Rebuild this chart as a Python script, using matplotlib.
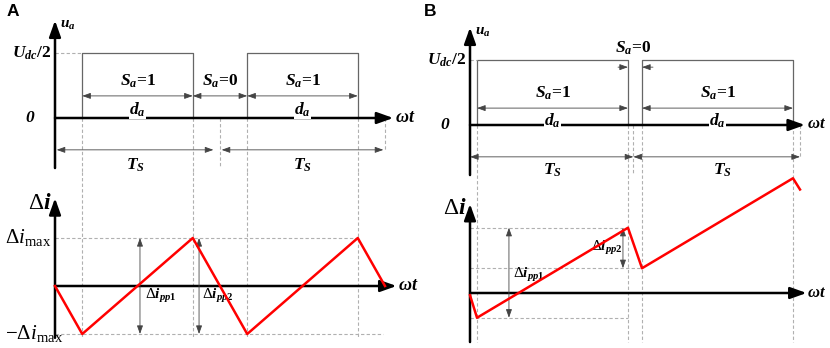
import matplotlib
matplotlib.use("Agg")
import matplotlib.pyplot as plt

plt.rcParams['mathtext.fontset'] = 'custom'
plt.rcParams['mathtext.rm'] = 'Liberation Serif'
plt.rcParams['mathtext.it'] = 'Liberation Serif:italic:bold'
plt.rcParams['mathtext.bf'] = 'Liberation Serif:bold'
plt.rcParams['mathtext.sf'] = 'Liberation Serif:italic'

# switching period normalised to Ts = 1, Udc/2 normalised to 1
u_high = 1.0
periods = [0.0, 1.0, 2.0]

# panel A: duty cycle ~0.67, symmetric ripple
edges_A = [0.165, 0.835, 1.165, 1.835]
t_A = [0.0, 0.165, 0.835, 1.165, 1.835, 2.0]
di_A = [0.0, -1.0, 1.0, -1.0, 1.0, 0.0]

# panel B: duty cycle ~0.915, ripple with drift
edges_B = [0.0425, 0.9575, 1.0425, 1.9575]
t_B = [0.0, 0.0425, 0.9575, 1.0425, 1.9575, 2.0]
di_B = [-0.05, -0.55, 1.45, 0.55, 2.55, 2.3]

W, H = 830, 348
SERIF = 'Liberation Serif'
DASH = dict(color='#b0b0b0', lw=0.8, ls=(0, (3, 2)))
GRAY = '#666666'


def make_ax(fig, l, t, r, b, t0_px, ppt, y0_px, ppu):
    ax = fig.add_axes([l / W, 1 - b / H, (r - l) / W, (b - t) / H])
    ax.set_xlim((l - t0_px) / ppt, (r - t0_px) / ppt)
    ax.set_ylim((y0_px - b) / ppu, (y0_px - t) / ppu)
    ax.axis('off')
    return ax


def axis_arrow(ax, p0, p1):
    ax.annotate('', xy=p1, xytext=p0, annotation_clip=False,
                arrowprops=dict(arrowstyle='-|>,head_length=0.7,head_width=0.25',
                                color='k', lw=1.8, shrinkA=0, shrinkB=0,
                                mutation_scale=14))


def dim_arrow(ax, p0, p1, style='<|-|>'):
    ax.annotate('', xy=p1, xytext=p0, annotation_clip=False,
                arrowprops=dict(arrowstyle=style + ',head_length=0.5,head_width=0.18',
                                color='#444444', lw=0.6, shrinkA=0, shrinkB=0,
                                mutation_scale=10))


def txt(ax, x, y, s, size=12.5, ha='center', va='center', **kw):
    ax.text(x, y, s, fontsize=size, ha=ha, va=va, family=SERIF,
            fontweight='bold', clip_on=False, **kw)


def top_panel(ax, edges, y_bottom, xend, wsize=13):
    # axes
    axis_arrow(ax, (0, y_bottom), (0, 1.5))
    axis_arrow(ax, (0, 0), (xend, 0))
    # pulses
    for s, e in zip(edges[0::2], edges[1::2]):
        ax.plot([s, s, e, e], [0, u_high, u_high, 0], color=GRAY, lw=0.9)
    ax.plot([0, edges[0]], [u_high, u_high], **DASH)
    txt(ax, -0.02, u_high, r'$U_{dc}$/2', ha='right')
    txt(ax, -0.15, 0, '0', fontstyle='italic')
    txt(ax, 0.03, 1.43, r'$u_a$', size=11, ha='left')
    txt(ax, xend + 0.01, 0.01, r'$\omega t$', size=wsize, ha='left')
    for e in edges:
        ax.plot([e, e], [0, ax.get_ylim()[0]], **DASH)


fig = plt.figure(figsize=(8.3, 3.48), dpi=100)

# ---------------- panel A ----------------
axA = make_ax(fig, 0, 0, 415, 172, 55, 165, 118, 65)
top_panel(axA, edges_A, -0.77, 2.05)
axA.plot([periods[1]] * 2, [0, -0.77], **DASH)
axA.plot([periods[2]] * 2, [0, -0.49], **DASH)
yd = 0.34
for a, b in zip(edges_A[:-1], edges_A[1:]):
    dim_arrow(axA, (a, yd), (b, yd))
for a, b, lab in [(edges_A[0], edges_A[1], r'$S_a$=1'),
                  (edges_A[1], edges_A[2], r'$S_a$=0'),
                  (edges_A[2], edges_A[3], r'$S_a$=1')]:
    txt(axA, (a + b) / 2, 0.56, lab)
for a, b in [(edges_A[0], edges_A[1]), (edges_A[2], edges_A[3])]:
    txt(axA, (a + b) / 2, 0.13, r'$d_a$',
        bbox=dict(fc='white', ec='none', pad=0.2))
dim_arrow(axA, (0.01, -0.49), (0.96, -0.49))
dim_arrow(axA, (1.01, -0.49), (1.99, -0.49))
txt(axA, 0.49, -0.73, r'$T_S$')
txt(axA, 1.5, -0.73, r'$T_S$')

axA2 = make_ax(fig, 0, 172, 415, 348, 55, 165, 286, 48)
axis_arrow(axA2, (0, -1.08), (0, 1.83))
axis_arrow(axA2, (0, 0), (2.07, 0))
for e in edges_A:
    axA2.plot([e, e], [axA2.get_ylim()[1], -1.08], **DASH)
axA2.plot([0, edges_A[3]], [1, 1], **DASH)
axA2.plot([0, 1.99], [-1, -1], **DASH)
axA2.plot(t_A, di_A, color='#ff0000', lw=1.8, zorder=5)
dim_arrow(axA2, (0.515, -1), (0.515, 1))
dim_arrow(axA2, (0.873, -1), (0.873, 1))
txt(axA2, 0.545, -0.2, r'$\Delta i_{pp\mathbf{1}}$', size=11, ha='left')
txt(axA2, 0.89, -0.2, r'$\Delta i_{pp\mathbf{2}}$', size=11, ha='left')
axA2.text(-0.02, 1.75, r'$\Delta\mathit{i}$', fontsize=17, ha='right', va='center')
axA2.text(-0.02, 1.0, r'$\Delta\mathsf{i}_{\mathrm{max}}$', fontsize=15, ha='right', va='center')
axA2.text(0.05, -1.0, r'$-\Delta\mathsf{i}_{\mathrm{max}}$', fontsize=15, ha='right', va='center')
txt(axA2, 2.08, 0.01, r'$\omega t$', size=13, ha='left')

# ---------------- panel B ----------------
axB = make_ax(fig, 420, 0, 830, 175, 470, 165, 125, 65)
top_panel(axB, edges_B, -0.77, 2.03, wsize=12)
axB.plot([0.99] * 2, [0, -0.77], **DASH)
axB.plot([periods[2]] * 2, [0, -0.5], **DASH)
yd = 0.26
dim_arrow(axB, (edges_B[0], yd), (edges_B[1], yd))
dim_arrow(axB, (edges_B[2], yd), (edges_B[3], yd))
dim_arrow(axB, (0.897, 0.89), (edges_B[1], 0.89), style='-|>')
dim_arrow(axB, (1.109, 0.89), (edges_B[2], 0.89), style='-|>')
txt(axB, 0.99, 1.18, r'$S_a$=0')
for a, b in [(edges_B[0], edges_B[1]), (edges_B[2], edges_B[3])]:
    txt(axB, (a + b) / 2, 0.49, r'$S_a$=1')
    txt(axB, (a + b) / 2, 0.06, r'$d_a$',
        bbox=dict(fc='white', ec='none', pad=0.2))
dim_arrow(axB, (0.0, -0.49), (0.99, -0.49))
dim_arrow(axB, (0.99, -0.49), (2.0, -0.49))
txt(axB, 0.5, -0.7, r'$T_S$')
txt(axB, 1.53, -0.7, r'$T_S$')

axB2 = make_ax(fig, 420, 175, 830, 348, 470, 165, 293, 45)
axis_arrow(axB2, (0, -1.09), (0, 1.98))
axis_arrow(axB2, (0, 0), (2.04, 0))
for e in edges_B:
    axB2.plot([e, e], [axB2.get_ylim()[1], -1.09], **DASH)
axB2.plot([0, edges_B[1]], [di_B[2], di_B[2]], **DASH)
axB2.plot([0, edges_B[2]], [di_B[3], di_B[3]], **DASH)
axB2.plot([0, edges_B[1]], [di_B[1], di_B[1]], **DASH)
axB2.plot(t_B, di_B, color='#ff0000', lw=1.8, zorder=5)
dim_arrow(axB2, (0.236, di_B[1]), (0.236, di_B[2]))
dim_arrow(axB2, (0.927, di_B[3]), (0.927, di_B[2]))
txt(axB2, 0.26, 0.4, r'$\Delta i_{pp\mathbf{1}}$', size=11, ha='left')
txt(axB2, 0.925, 1.0, r'$\Delta i_{pp\mathbf{2}}$', size=11, ha='right')
axB2.text(-0.02, 1.9, r'$\Delta\mathit{i}$', fontsize=17, ha='right', va='center')
txt(axB2, 2.045, 0.01, r'$\omega t$', size=12, ha='left')

fig.text(7 / W, 1 - 11 / H, 'A', fontsize=12.5, fontweight='bold',
         family='Liberation Sans', ha='left', va='center')
fig.text(424 / W, 1 - 11 / H, 'B', fontsize=12.5, fontweight='bold',
         family='Liberation Sans', ha='left', va='center')

fig.savefig('out.png', dpi=100)
